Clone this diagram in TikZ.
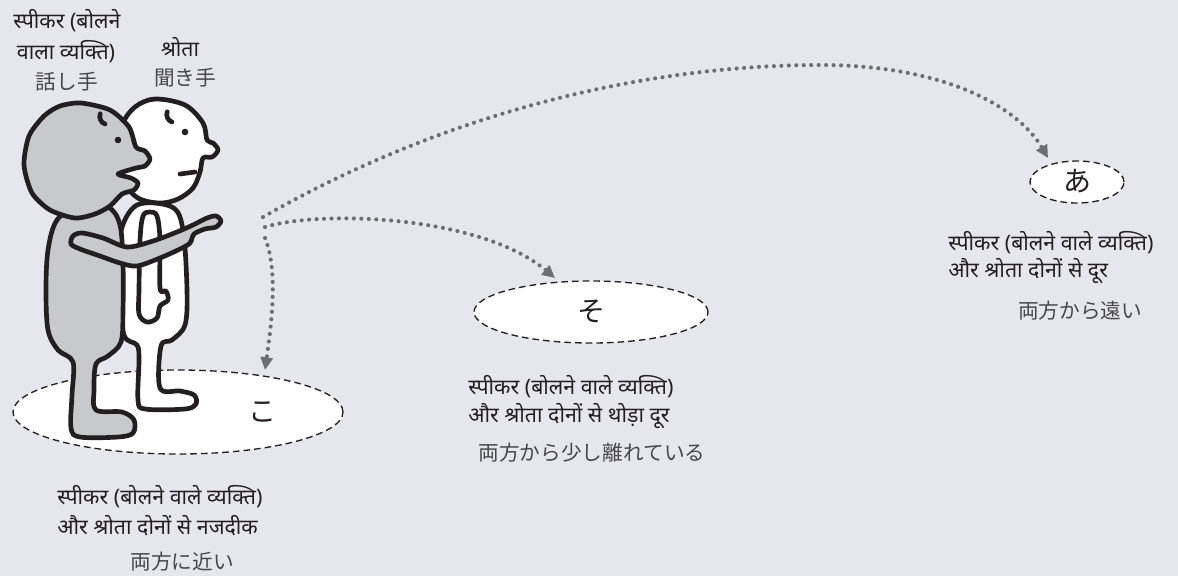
\documentclass[tikz,border=0pt]{standalone}
\usepackage{fontspec}
\newfontfamily\hindi[Script=Devanagari]{Noto Sans}
\newfontfamily\jp{Noto Sans CJK JP}
\usetikzlibrary{arrows.meta,shapes.geometric}
\definecolor{bg}{RGB}{230,230,237}
\definecolor{ink}{RGB}{35,31,32}
\definecolor{dotc}{RGB}{109,110,113}
\definecolor{skin}{RGB}{200,201,204}
\definecolor{jpc}{RGB}{72,72,76}
\begin{document}
\begin{tikzpicture}[x=0.75pt,y=-0.75pt,
  hi/.style={font=\hindi\fontsize{16}{19}\selectfont, text=ink, inner sep=0pt},
  ja/.style={font=\jp\fontsize{15.5}{18}\selectfont, text=jpc, inner sep=0pt},
  kana/.style={font=\jp\fontsize{21}{24}\selectfont, text=ink, inner sep=0pt},
  zone/.style={ellipse, draw=ink, fill=white, dash pattern=on 5pt off 3pt, line width=1pt, inner sep=0pt},
  outline/.style={draw=ink, line width=3.5pt, line join=round},
  pointer/.style={draw=dotc, line width=3.1pt, line cap=round, dash pattern=on 0pt off 5.6pt,
    -{Triangle[length=9.5pt,width=9pt]}}
]
% canvas
\fill[bg] (0,0) rectangle (1178,576);

% distance zones
\node[zone, minimum width=247.5pt, minimum height=63pt] (koZone) at (178,412) {};
\node[zone, minimum width=175.5pt, minimum height=46.5pt] (soZone) at (591,312) {};
\node[zone, minimum width=70.5pt, minimum height=31.5pt] (aZone) at (1077,182) {};
\node[kana] (ko) at (262,412) {こ};
\node[kana] (so) at (591,311) {そ};
\node[kana] (a) at (1077,181) {あ};

% listener (white figure, behind)
\draw[outline, fill=white] plot[smooth cycle, tension=0.55] coordinates {
  (137,205) (172,207) (183,230) (187,290) (185,325) (172,340) (161,346) (160,388)
  (180,391) (194,395) (196,404) (185,409) (145,409) (138,400) (139,360) (137,345)
  (124,335) (120,290) (120,235)};
\draw[outline, fill=white] plot[smooth cycle, tension=0.55] coordinates {
  (155,99) (185,105) (203,123) (207,140) (213,143) (218,150) (212,157) (203,158)
  (200,172) (193,188) (178,199) (160,203) (138,198) (122,180) (116,155) (122,125) (135,107)};
\draw[outline, line cap=round] (180,174) -- (195,172);
\draw[outline, line cap=round] (172,122) arc[start angle=110, end angle=200, radius=8];
\fill[ink] (185,132) circle[radius=3.3];
\draw[outline, fill=white] plot[smooth cycle, tension=0.55] coordinates {
  (150,212) (157,216) (160,240) (160,288) (166,291) (168,300) (160,306) (157,318)
  (147,322) (139,314) (139,290) (140,240) (143,216)};

% speaker (grey figure, in front)
\draw[outline, fill=skin] plot[smooth cycle, tension=0.55] coordinates {
  (80,205) (108,207) (120,225) (123,265) (123,310) (121,342) (108,356) (96,364)
  (94,390) (96,410) (122,412) (134,420) (133,433) (118,437) (80,437) (71,428)
  (72,395) (73,362) (58,350) (48,330) (46,290) (48,250) (57,220)};
\draw[outline, fill=skin] plot[smooth cycle, tension=0.45] coordinates {
  (81,103) (110,110) (129,127) (136,147) (145,151) (150,159) (145,166) (136,168)
  (118,174) (131,178) (138,183) (134,190) (122,194) (110,206) (95,214) (75,218)
  (50,210) (32,193) (24,165) (29,136) (44,116) (60,106)};
\draw[outline, line cap=round] (105,124) arc[start angle=110, end angle=200, radius=8];
\fill[ink] (118,140) circle[radius=3.3];
\draw[outline, fill=skin] plot[smooth cycle, tension=0.5] coordinates {
  (73,236) (82,233) (103,238) (127,247) (153,241) (177,232) (193,225) (207,218)
  (216,216) (221,221) (216,227) (205,229) (194,234) (190,243) (180,249) (160,258)
  (137,266) (120,263) (100,256) (80,249) (71,244)};

% pointing connectors
\coordinate (fromA) at (263,217);
\coordinate (fromSo) at (265,227);
\coordinate (fromKo) at (265,238);
\coordinate (tipA) at (1048,158);
\coordinate (tipSo) at (555,278);
\coordinate (tipKo) at (265,370);
\draw[pointer] (fromA) .. controls (450,110) and (650,65) .. (820,65)
  .. controls (950,65) and (1020,110) .. (tipA);
\draw[pointer] (fromSo) .. controls (320,210) and (480,215) .. (tipSo);
\draw[pointer] (fromKo) .. controls (278,270) and (272,320) .. (tipKo);

% captions
\node[hi] (spk1) at (67,21) {स्पीकर (बोलने};
\node[hi] (spk2) at (66,52) {वाला व्यक्ति)};
\node[ja] (spk3) at (67,82) {話し手};
\node[hi] (lis1) at (180,47) {श्रोता};
\node[ja] (lis2) at (185,78) {聞き手};

\node[hi, anchor=west] (koA) at (57,497) {स्पीकर (बोलने वाले व्यक्ति)};
\node[hi, anchor=west] (koB) at (57,526) {और श्रोता दोनों से नजदीक};
\node[ja] (koC) at (182,562) {両方に近い};

\node[hi, anchor=west] (soA) at (468,387) {स्पीकर (बोलने वाले व्यक्ति)};
\node[hi, anchor=west] (soB) at (468,416) {और श्रोता दोनों से थोड़ा दूर};
\node[ja] (soC) at (592,453) {両方から少し離れている};

\node[hi, anchor=west] (aA) at (948,243) {स्पीकर (बोलने वाले व्यक्ति)};
\node[hi, anchor=west] (aB) at (948,271) {और श्रोता दोनों से दूर};
\node[ja] (aC) at (1080,311) {両方から遠い};
\end{tikzpicture}
\end{document}
